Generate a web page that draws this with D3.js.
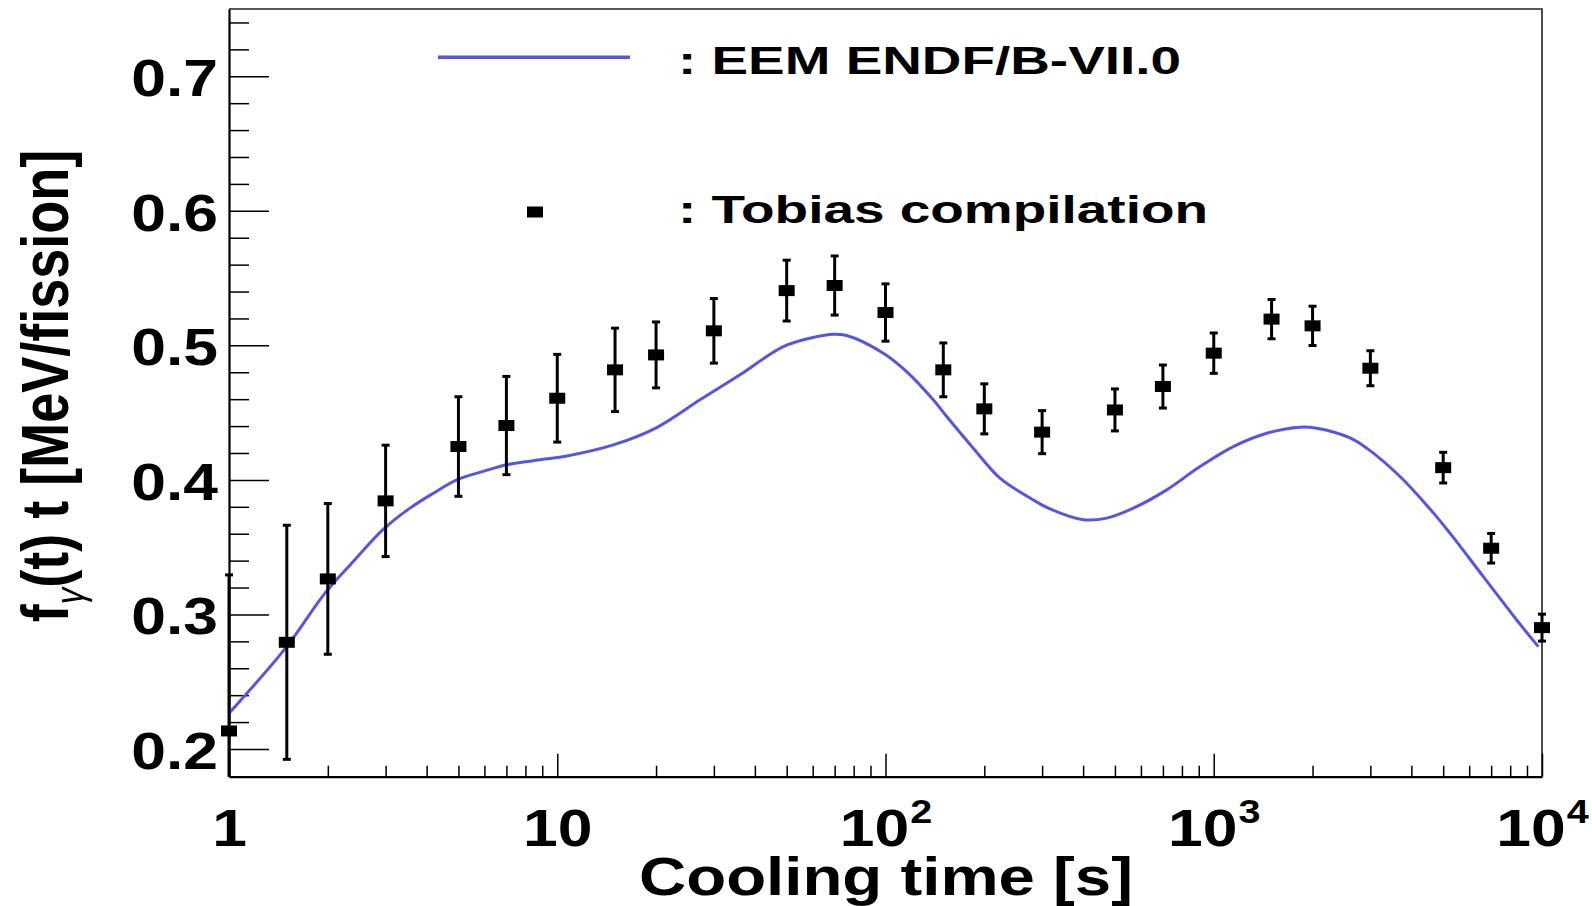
<!DOCTYPE html>
<html>
<head>
<meta charset="utf-8">
<script src="https://cdn.jsdelivr.net/npm/d3@7"></script>
<style>
  body { margin: 0; background: #fff; }
  svg { display: block; }
  text { font-family: "Liberation Sans", Arial, Helvetica, sans-serif; font-weight: bold; fill: #000; }
</style>
</head>
<body>
<div id="chart"></div>
<script>

// measured points (Tobias compilation)
var tPoints = [1, 1.5, 2, 3, 5, 7, 10, 15, 20, 30, 50, 70, 100, 150, 200,
               300, 500, 700, 1000, 1500, 2000, 3000, 5000, 7000, 10000];
var fPoints = [0.2134, 0.2793, 0.3264, 0.3844, 0.4248, 0.4404, 0.4607, 0.4818,
               0.4929, 0.5108, 0.5407, 0.5445, 0.5244, 0.4818, 0.4528, 0.4355,
               0.4520, 0.4694, 0.4942, 0.5195, 0.5145, 0.4830, 0.4091, 0.3492, 0.2902];
var fErrors = [0.116, 0.087, 0.056, 0.0414, 0.037, 0.0365, 0.0326, 0.031,
               0.0245, 0.024, 0.0226, 0.022, 0.0213, 0.020, 0.0186, 0.016,
               0.0156, 0.016, 0.015, 0.0146, 0.0146, 0.013, 0.0114, 0.011, 0.010];

// EEM ENDF/B-VII.0 curve
var curveT = [1, 1.499, 1.961, 2.391, 2.939, 3.559, 4.194, 4.94, 5.953, 7.015,
              8.453, 10.69, 14.82, 20.09, 27.22, 36.04, 48.84, 61.71, 69.34,
              76.18, 98.45, 116.0, 139.8, 153.6, 185.1, 223.3, 282.0, 317.0, 400.5,
              472.0, 568.6, 719.0, 908.0, 1147, 1450, 1831, 2059, 2601, 2924, 3693,
              4666, 5244, 6626, 8375, 9743];
var curveF = [0.2265, 0.2761, 0.3158, 0.3393, 0.3628, 0.3790, 0.3901, 0.4000, 0.4063, 0.4112,
              0.4143, 0.4178, 0.4260, 0.4389, 0.4595, 0.4781, 0.4991, 0.5065, 0.5083,
              0.5073, 0.4942, 0.4805, 0.4595, 0.4471, 0.4236, 0.4013, 0.3851, 0.3784, 0.3704,
              0.3716, 0.3790, 0.3926, 0.4099, 0.4248, 0.4347, 0.4392, 0.4384, 0.4312, 0.4236, 0.4025,
              0.3755, 0.3604, 0.3281, 0.2959, 0.2761];

// ticks
var xTickVals = [1, 10, 100, 1000, 10000];
var xTickBase = ["1", "10", "10", "10", "10"];
var xTickExp = ["", "", "2", "3", "4"];
var yTickVals = [0.2, 0.3, 0.4, 0.5, 0.6, 0.7];
var yTickLabels = ["0.2", "0.3", "0.4", "0.5", "0.6", "0.7"];

var legendNames = [": EEM ENDF/B-VII.0", ": Tobias compilation"];

var W = 1592, H = 906;
var frame = {left: 229, right: 1542, top: 9, bottom: 776.7};
var lineColor = "#5656e2";
var widen = 1.2;   // the original picture is stretched sideways

var svg = d3.select("#chart").append("svg")
    .attr("width", W)
    .attr("height", H);

var x = d3.scaleLog()
    .domain([1, 1e4])
    .range([frame.left, frame.right]);

var y = d3.scaleLinear()
    .domain([0.1794, 0.75])
    .range([frame.bottom, frame.top]);

svg.append("clipPath").attr("id", "plotClip")
  .append("rect")
    .attr("x", frame.left - 10)
    .attr("y", frame.top)
    .attr("width", frame.right - frame.left + 20)
    .attr("height", frame.bottom - frame.top);

// frame top / right
svg.append("path")
    .attr("d", "M" + frame.left + "," + frame.top + "H" + frame.right + "V" + frame.bottom)
    .attr("fill", "none")
    .attr("stroke", "#222")
    .attr("stroke-width", 1.6);

// minor ticks
var xMinor = [];
[1, 10, 100, 1000].forEach(function(dec) {
    for (var k = 2; k <= 9; k++) xMinor.push(k * dec);
});
var yMinor = d3.range(0.22, 0.745, 0.02).map(function(v) { return +v.toFixed(2); })
    .filter(function(v) { return yTickVals.indexOf(v) < 0; });

svg.append("g")
    .attr("class", "xMinor")
    .attr("transform", "translate(0," + frame.bottom + ")")
    .call(d3.axisBottom(x).tickValues(xMinor).tickSizeInner(-11).tickSizeOuter(0).tickFormat(""));

svg.append("g")
    .attr("class", "yMinor")
    .attr("transform", "translate(" + frame.left + ",0)")
    .call(d3.axisLeft(y).tickValues(yMinor).tickSizeInner(-20).tickSizeOuter(0).tickFormat(""));

// major axes
var xAxis = d3.axisBottom(x)
    .tickValues(xTickVals)
    .tickSizeInner(-23)
    .tickSizeOuter(0)
    .tickFormat("");

var yAxis = d3.axisLeft(y)
    .tickValues(yTickVals)
    .tickSizeInner(-40)
    .tickSizeOuter(0)
    .tickPadding(11)
    .tickFormat(function(d, i) { return yTickLabels[i]; });

var gx = svg.append("g")
    .attr("class", "xAxis")
    .attr("transform", "translate(0," + frame.bottom + ")")
    .call(xAxis);

var gy = svg.append("g")
    .attr("class", "yAxis")
    .attr("transform", "translate(" + frame.left + ",0)")
    .call(yAxis);

svg.selectAll(".xMinor path, .yMinor path").remove();
svg.selectAll(".xMinor line, .yMinor line, .xAxis line, .yAxis line")
    .attr("stroke", "#000")
    .attr("stroke-width", 1.5);
svg.selectAll(".xAxis path, .yAxis path")
    .attr("stroke", "#000")
    .attr("stroke-width", 2.2);

gy.selectAll("text")
    .attr("font-size", 52)
    .attr("font-family", null)
    .attr("x", -11 / widen)
    .attr("dy", "0.37em")
    .attr("transform", "scale(" + widen + ",1)");

gx.selectAll(".tick").each(function(d, i) {
    var t = d3.select(this).select("text")
        .attr("y", 69)
        .attr("dy", 0)
        .attr("font-size", 52)
        .attr("text-anchor", "middle")
        .attr("transform", "scale(" + widen + ",1)")
        .text(null);
    t.append("tspan").text(xTickBase[i]);
    if (xTickExp[i]) {
        t.append("tspan")
            .attr("font-size", 33)
            .attr("dx", 1)
            .attr("dy", -23)
            .text(xTickExp[i]);
    }
});

// curve
var pts = curveT.map(function(t, i) { return [x(t), y(curveF[i])]; });
svg.append("path")
    .attr("d", d3.line().curve(d3.curveCatmullRom.alpha(0.5))(pts))
    .attr("fill", "none")
    .attr("stroke", lineColor)
    .attr("stroke-width", 3);

// error bars and markers
var points = tPoints.map(function(t, i) { return {t: t, f: fPoints[i], e: fErrors[i]}; });
var bars = svg.append("g").attr("clip-path", "url(#plotClip)");

bars.selectAll("line.err")
    .data(points).enter().append("line")
    .attr("class", "err")
    .attr("x1", d => x(d.t)).attr("x2", d => x(d.t))
    .attr("y1", d => y(d.f - d.e)).attr("y2", d => y(d.f + d.e))
    .attr("stroke", "#000").attr("stroke-width", 3);

["hi", "lo"].forEach(function(side) {
    bars.selectAll("line.cap-" + side)
        .data(points).enter().append("line")
        .attr("class", "cap-" + side)
        .attr("x1", d => x(d.t) - 4).attr("x2", d => x(d.t) + 4)
        .attr("y1", d => y(side == "hi" ? d.f + d.e : d.f - d.e))
        .attr("y2", d => y(side == "hi" ? d.f + d.e : d.f - d.e))
        .attr("stroke", "#000").attr("stroke-width", 3);
});

bars.selectAll("rect.marker")
    .data(points).enter().append("rect")
    .attr("class", "marker")
    .attr("x", d => x(d.t) - 8)
    .attr("y", d => y(d.f) - 5.5)
    .attr("width", 16)
    .attr("height", 11)
    .attr("fill", "#000");

// legend
svg.append("line")
    .attr("x1", 438).attr("x2", 630)
    .attr("y1", 57.3).attr("y2", 57.3)
    .attr("stroke", lineColor)
    .attr("stroke-width", 3.5);

svg.append("rect")
    .attr("x", 527).attr("y", 206.5)
    .attr("width", 16).attr("height", 11)
    .attr("fill", "#000");

svg.append("text")
    .attr("x", 678).attr("y", 74)
    .attr("font-size", 38)
    .attr("textLength", 503)
    .attr("lengthAdjust", "spacingAndGlyphs")
    .text(legendNames[0]);

svg.append("text")
    .attr("x", 678).attr("y", 223)
    .attr("font-size", 38)
    .attr("textLength", 530)
    .attr("lengthAdjust", "spacingAndGlyphs")
    .text(legendNames[1]);

// axis titles
svg.append("text")
    .attr("x", 886).attr("y", 895)
    .attr("text-anchor", "middle")
    .attr("font-size", 54)
    .attr("textLength", 494)
    .attr("lengthAdjust", "spacingAndGlyphs")
    .text("Cooling time [s]");

var yTitle = svg.append("text")
    .attr("text-anchor", "middle")
    .attr("font-size", 54)
    .attr("transform", "translate(68,386) scale(1.22,1) rotate(-90)");
yTitle.append("tspan").text("f");
yTitle.append("tspan")
    .attr("font-size", 33)
    .attr("font-weight", "normal")
    .attr("font-style", "italic")
    .attr("dy", 13)
    .text("γ");
yTitle.append("tspan")
    .attr("dy", -13)
    .text("(t) t [MeV/fission]");

</script>
</body>
</html>
